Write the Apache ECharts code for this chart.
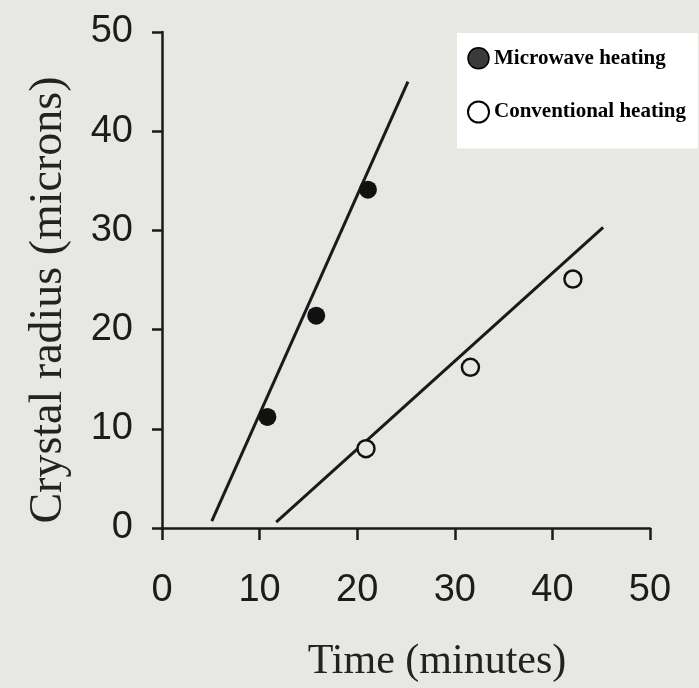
<!DOCTYPE html>
<html>
<head>
<meta charset="utf-8">
<script src="https://cdn.jsdelivr.net/npm/echarts@6/dist/echarts.min.js"></script>
<style>
  html, body { margin: 0; padding: 0; background: #e7e7e4; }
  #chart { width: 699px; height: 688px; }
</style>
</head>
<body>
<div id="chart"></div>
<script>
// Data
var microwaveTime = [10.8, 15.8, 21.1];
var microwaveRadius = [11.2, 21.4, 34.1];
var conventionalTime = [20.9, 31.6, 42.1];
var conventionalRadius = [8.0, 16.2, 25.1];
// Fitted lines (end points)
var microwaveFitTime = [5.1, 25.2];
var microwaveFitRadius = [0.7, 45.0];
var conventionalFitTime = [11.7, 45.2];
var conventionalFitRadius = [0.6, 30.3];
var xTicks = [0, 10, 20, 30, 40, 50];
var yTicks = [0, 10, 20, 30, 40, 50];

function pairs(xs, ys) { return xs.map(function (x, i) { return [x, ys[i]]; }); }

var chart = echarts.init(document.getElementById('chart'));
var ink = '#1a1a1a';
chart.setOption({
  backgroundColor: '#e7e7e4',
  animation: false,
  grid: { left: 162, right: 49, top: 32, bottom: 158, containLabel: false },
  xAxis: {
    type: 'value', min: xTicks[0], max: xTicks[xTicks.length - 1], interval: 10,
    name: 'Time (minutes)', nameLocation: 'middle', nameGap: 113,
    nameTextStyle: { fontFamily: 'Liberation Serif', fontSize: 42, color: '#222', padding: [0, 0, 0, 62] },
    axisLine: { lineStyle: { color: ink, width: 2.5 } },
    axisTick: { length: 12, lineStyle: { color: ink, width: 2.5 } },
    axisLabel: { fontFamily: 'Liberation Sans', fontSize: 38, color: '#1c1c1c', margin: 44 },
    splitLine: { show: false }
  },
  yAxis: {
    type: 'value', min: yTicks[0], max: yTicks[yTicks.length - 1], interval: 10,
    name: 'Crystal radius (microns)', nameLocation: 'middle', nameGap: 90, nameRotate: 90,
    nameTextStyle: { fontFamily: 'Liberation Serif', fontSize: 46, color: '#222', padding: [0, 40, 0, 0] },
    axisLine: { lineStyle: { color: ink, width: 2.5 } },
    axisTick: { length: 10, lineStyle: { color: ink, width: 2.5 } },
    axisLabel: { fontFamily: 'Liberation Sans', fontSize: 38, color: '#1c1c1c', margin: 29 },
    splitLine: { show: false }
  },
  legend: {
    orient: 'vertical', left: 457, top: 33,
    padding: [14, 12, 25, 10],
    backgroundColor: '#ffffff',
    itemWidth: 21, itemHeight: 21, itemGap: 31,
    textStyle: { fontFamily: 'Liberation Serif', fontWeight: 'bold', fontSize: 21, color: '#000' },
    data: [
      { name: 'Microwave heating', icon: 'circle', itemStyle: { color: '#3a3a3a', borderColor: '#000', borderWidth: 1.5, opacity: 1 } },
      { name: 'Conventional heating', icon: 'circle', itemStyle: { color: '#ffffff', borderColor: '#000', borderWidth: 2, opacity: 1 } }
    ]
  },
  series: [
    {
      name: 'Microwave fit', type: 'line', data: pairs(microwaveFitTime, microwaveFitRadius),
      showSymbol: false, lineStyle: { color: ink, width: 3 }, silent: true, z: 2
    },
    {
      name: 'Conventional fit', type: 'line', data: pairs(conventionalFitTime, conventionalFitRadius),
      showSymbol: false, lineStyle: { color: ink, width: 3 }, silent: true, z: 2
    },
    {
      name: 'Microwave heating', type: 'scatter', data: pairs(microwaveTime, microwaveRadius),
      symbol: 'circle', symbolSize: 18, itemStyle: { color: '#111', opacity: 1 }, z: 3
    },
    {
      name: 'Conventional heating', type: 'scatter', data: pairs(conventionalTime, conventionalRadius),
      symbol: 'circle', symbolSize: 17, itemStyle: { color: '#e7e7e4', borderColor: '#111', borderWidth: 2.5, opacity: 1 }, z: 3
    }
  ]
});
</script>
</body>
</html>
